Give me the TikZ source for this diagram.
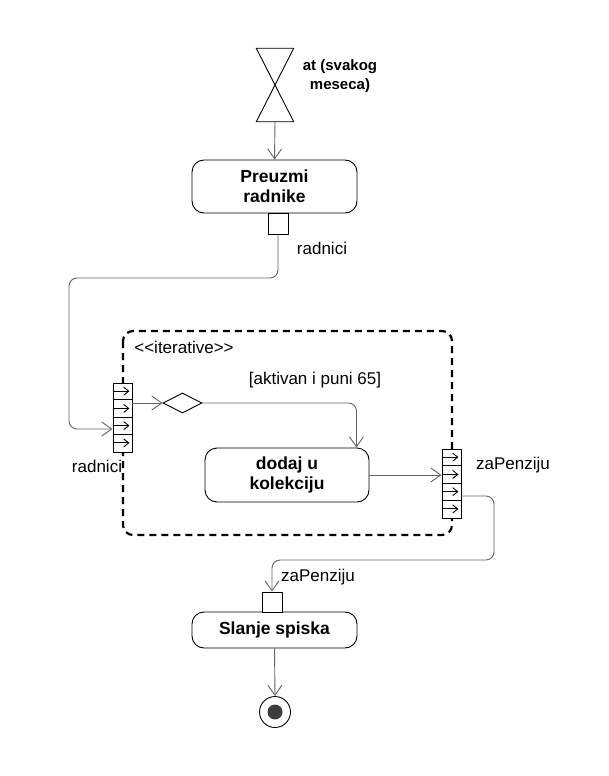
\documentclass[tikz,border=0pt]{standalone}
\usepackage{fontspec}
\setmainfont{Liberation Sans}
\usetikzlibrary{arrows.meta,shapes.geometric}
\definecolor{flowgray}{RGB}{100,100,100}
\definecolor{endgray}{RGB}{60,60,60}
\begin{document}
\begin{tikzpicture}[x=1pt, y=1pt,
  every node/.style={font=\fontsize{17}{20}\selectfont},
  action/.style={draw=black, line width=0.9pt, rounded corners=12pt, minimum width=165pt, align=center, inner sep=0pt, font=\fontsize{17.5}{20}\selectfont\bfseries},
  pin/.style={draw=black, fill=white, line width=0.9pt, minimum width=20pt, minimum height=21pt, inner sep=0pt},
  expin/.style={pin, minimum width=19pt, minimum height=69pt},
  flow/.style={draw=flowgray, line width=0.9pt, -{Straight Barb[length=10pt,width=14pt]}},
  region/.style={draw=black, line width=2.2pt, dash pattern=on 7pt off 5pt, rounded corners=10pt}]
\useasboundingbox (0,0) rectangle (608,-776);
\draw [region] (123,-331) rectangle (452,-535);
\node (iterlbl) at (184,-347) {<\kern0pt<iterative>\kern0pt>};
\node [minimum width=37pt, minimum height=73pt, inner sep=0pt] (timer) at (275,-85) {};
\draw [black, line width=0.9pt] (timer.north west) -- (timer.north east) -- (timer.south west) -- (timer.south east) -- cycle;
\node [align=center, font=\fontsize{15}{19}\selectfont\bfseries] (timerlbl) at (340,-76) {at (svakog\\meseca)};
\node [action, minimum height=53pt] (preuzmi) at (274.5,-186.5) {Preuzmi\\radnike};
\node [pin] (pinA) at (278,-223.5) {};
\node (radlblA) at (322,-248) {radnici};
\node [expin] (inexp) at (122.5,-417.5) {};
\node (radlblB) at (97,-466) {radnici};
\node [draw=black, line width=0.9pt, diamond, minimum width=39pt, minimum height=20pt, inner sep=0pt] (choice) at (182.5,-403) {};
\node (guard) at (315,-380) {[aktivan i puni 65]};
\node [action, minimum width=164pt, minimum height=54pt] (dodaj) at (287,-475) {dodaj u\\kolekciju};
\node [expin] (outexp) at (451.5,-483.5) {};
\node (penzlblA) at (513,-465) {zaPenziju};
\node [action, minimum height=36pt] (slanje) at (274.5,-630) {Slanje spiska};
\node [pin, minimum height=20pt] (pinB) at (272,-602) {};
\node (penzlblB) at (318,-577) {zaPenziju};
\node [circle, draw=black, line width=0.9pt, minimum size=31pt, inner sep=0pt] (final) at (275,-712) {};
\fill [endgray] (final) circle (7.5pt);
\foreach \e in {inexp,outexp} {
  \foreach \k in {2,4,6}
    \draw [black, line width=0.9pt] ([yshift=-8.625*\k pt]\e.north west) -- ([yshift=-8.625*\k pt]\e.north east);
  \foreach \k in {1,3,5,7}
    \draw [black, line width=0.9pt, -{Straight Barb[length=5pt,width=8pt]}] ([yshift=-8.625*\k pt]\e.north west) -- ([xshift=-3pt, yshift=-8.625*\k pt]\e.north east);
}
\draw [flow] (timer.south) -- (preuzmi.north);
\draw [flow, rounded corners=8pt] (pinA.south) |- (69,-278) |- (inexp.west |- 0,-429);
\draw [flow] (inexp.east |- choice.west) -- (choice.west);
\draw [flow, rounded corners=8pt] (choice.east) -| ([xshift=-13pt]dodaj.north east);
\draw [flow] (dodaj.east) -- (outexp.west |- dodaj.east);
\draw [flow, rounded corners=8pt] ([yshift=-12.5pt]outexp.east) -| (494,-560) -| (pinB.north);
\draw [flow] (slanje.south) -- (final.north);
\end{tikzpicture}
\end{document}
